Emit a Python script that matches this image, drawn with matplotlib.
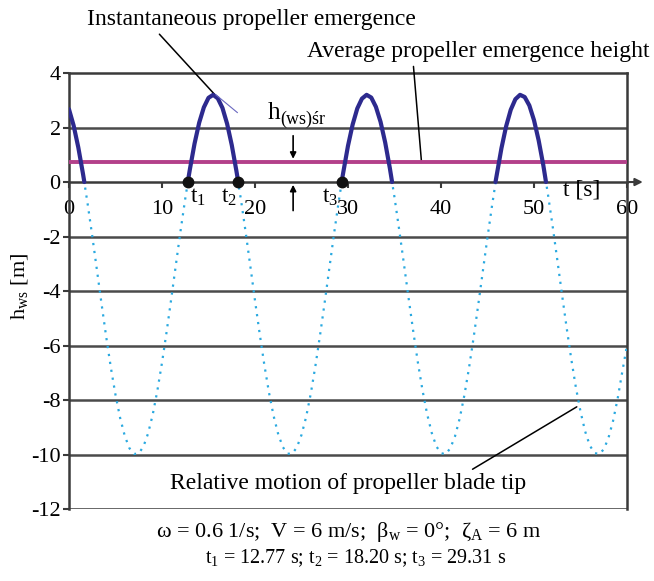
import numpy as np
import matplotlib
matplotlib.use("Agg")
import matplotlib.pyplot as plt

# blade tip height, every half second from 0 to 60 s
t = np.arange(0, 60.5, 0.5)
h_ws = [2.67, 2.07, 1.27, 0.31, -0.79, -1.98, -3.22, -4.47, -5.68, -6.81,
        -7.81, -8.66, -9.32, -9.77, -9.98, -9.96, -9.71, -9.23, -8.54, -7.66,
        -6.63, -5.49, -4.27, -3.02, -1.78, -0.61, 0.47, 1.41, 2.18, 2.74,
        3.09, 3.20, 3.07, 2.72, 2.14, 1.36, 0.41, -0.67, -1.85, -3.09,
        -4.35, -5.56, -6.70, -7.72, -8.58, -9.26, -9.73, -9.97, -9.97, -9.74,
        -9.28, -8.62, -7.76, -6.74, -5.61, -4.40, -3.15, -1.90, -0.72, 0.37,
        1.33, 2.11, 2.70, 3.06, 3.20, 3.10, 2.76, 2.21, 1.45, 0.51,
        -0.56, -1.74, -2.97, -4.22, -5.44, -6.59, -7.62, -8.50, -9.20, -9.70,
        -9.95, -9.99, -9.77, -9.34, -8.69, -7.85, -6.85, -5.73, -4.52, -3.27,
        -2.03, -0.84, 0.27, 1.24, 2.04, 2.65, 3.04, 3.20, 3.12, 2.81,
        2.27, 1.53, 0.62, -0.45, -1.61, -2.84, -4.10, -5.32, -6.48, -7.53,
        -8.42, -9.15, -9.67, -9.94, -9.99, -9.81, -9.40, -8.77, -7.94, -6.95,
        -6.0]
# emergence intervals (zero crossings)
emerge = [(0.0, 1.65), (12.77, 18.20), (29.31, 34.74), (45.86, 51.29)]
t_marks = [12.77, 18.20, 29.31]
t_names = ["t_1", "t_2", "t_3"]
h_mean = 0.75

xticks = [0, 10, 20, 30, 40, 50, 60]
yticks = [4, 2, 0, -2, -4, -6, -8, -10, -12]
grid_y = [2, -2, -4, -6, -8, -10]

plt.rcParams["font.family"] = ["Liberation Serif", "DejaVu Serif"]
plt.rcParams["mathtext.fontset"] = "custom"
plt.rcParams["mathtext.rm"] = "Liberation Serif"
plt.rcParams["mathtext.it"] = "Liberation Serif"
plt.rcParams["axes.unicode_minus"] = False
FS = 16
FA = 17

fig = plt.figure(figsize=(6.54, 5.81), dpi=100)
ax = fig.add_axes([0.1055, 0.1239, 0.8532, 0.7504])
ax.set_xlim(0, 60)
ax.set_ylim(-12, 4)

edge = "#3a3a3a"
for s in ax.spines.values():
    s.set_color(edge)
    s.set_linewidth(1.8)
ax.spines["bottom"].set_position(("data", 0))
ax.axhline(-12, color=edge, lw=1.8, zorder=2.5)
for g in grid_y:
    ax.axhline(g, color="#4a4a4a", lw=1.8, zorder=1)

ax.set_yticks(yticks)
ax.set_xticks(xticks)
ax.tick_params(axis="y", length=4, width=1.5, color=edge, labelsize=FS, pad=2)
ax.tick_params(axis="x", direction="out", length=4, width=1.5, color=edge,
               labelsize=FS, pad=9)
for lab in ax.get_xticklabels():
    lab.set_bbox(dict(fc="white", ec="none", pad=3))

ax.set_ylabel(r"$\mathrm{h_{ws}}$ [m]", fontsize=FS)
ax.yaxis.set_label_coords(-0.07, 0.51)

# relative motion (dotted) and emergence (thick)
ax.plot(t, h_ws, linestyle=(0, (1, 2.6)), color="#2aa9e0", lw=1.6, zorder=3)
h_arr = np.array(h_ws)
for a, b in emerge:
    m = (t > a) & (t < b)
    xs = [a] + list(t[m]) + [b]
    ys = [0 if a > 0 else h_arr[0]] + list(h_arr[m]) + [0]
    ax.plot(xs, ys, color="#2d2a8e", lw=3.0, solid_capstyle="round",
            solid_joinstyle="round", zorder=5)

ax.axhline(h_mean, color="#b3408a", lw=2.8, zorder=4)
ax.plot(t_marks, [0] * len(t_marks), "o", color="#111111", ms=7.5,
        zorder=6, clip_on=False)

label_dx = [1.05, -1.0, -1.2]
for x, name, dx in zip(t_marks, t_names, label_dx):
    ax.text(x + dx, -0.55, r"$\mathrm{" + name + "}$", fontsize=FA,
            ha="center", va="center", zorder=7)

ax.text(55.1, -0.3, "t [s]", fontsize=FA, ha="center", va="center")
ax.annotate("", xy=(62.0, 0), xytext=(59.9, 0),
            arrowprops=dict(arrowstyle="-|>", color=edge, lw=1.5,
                            mutation_scale=11), annotation_clip=False)

# mean height arrows
ax.annotate("", xy=(24.1, h_mean), xytext=(24.1, 1.8),
            arrowprops=dict(arrowstyle="-|>", color="black", lw=1.2,
                            mutation_scale=9))
ax.annotate("", xy=(24.1, 0), xytext=(24.1, -1.15),
            arrowprops=dict(arrowstyle="-|>", color="black", lw=1.2,
                            mutation_scale=9))
ax.text(21.4, 2.3, "h", fontsize=FA + 1, ha="left", va="baseline")
ax.text(22.75, 2.15, "(ws)śr", fontsize=FA - 4, ha="left", va="baseline")

# callouts
ax.annotate("Instantaneous propeller emergence", xy=(15.7, 3.2),
            xytext=(19.6, 5.95), fontsize=FA, ha="center", va="center",
            annotation_clip=False,
            arrowprops=dict(arrowstyle="-", color="black", lw=1.1,
                            shrinkA=1, shrinkB=0, relpos=(0.21, 0.0)))
ax.plot([15.8, 18.1], [3.2, 2.55], color="#6a68c0", lw=0.8, zorder=6)
ax.annotate("Average propeller emergence height", xy=(37.9, h_mean),
            xytext=(44.0, 4.78), fontsize=FA, ha="center", va="center",
            annotation_clip=False,
            arrowprops=dict(arrowstyle="-", color="black", lw=1.1,
                            shrinkA=1, shrinkB=0, relpos=(0.31, 0.0)))
ax.annotate("Relative motion of propeller blade tip", xy=(54.6, -8.25),
            xytext=(30.0, -11.08), fontsize=FA, ha="center", va="center",
            arrowprops=dict(arrowstyle="-", color="black", lw=1.1,
                            shrinkA=2, shrinkB=0, relpos=(0.83, 1.0)))

fig.text(0.534, 0.085,
         r"ω = 0.6 1/s;  V = 6 m/s;  $\mathrm{β_w}$ = 0°;  $\mathrm{ζ_A}$ = 6 m",
         fontsize=16, ha="center", va="center")
fig.text(0.543, 0.040,
         r"$\mathrm{t_1}$ = 12.77 s; $\mathrm{t_2}$ = 18.20 s; "
         r"$\mathrm{t_3}$ = 29.31 s",
         fontsize=14.5, ha="center", va="center")

fig.savefig("out.png", dpi=100)
